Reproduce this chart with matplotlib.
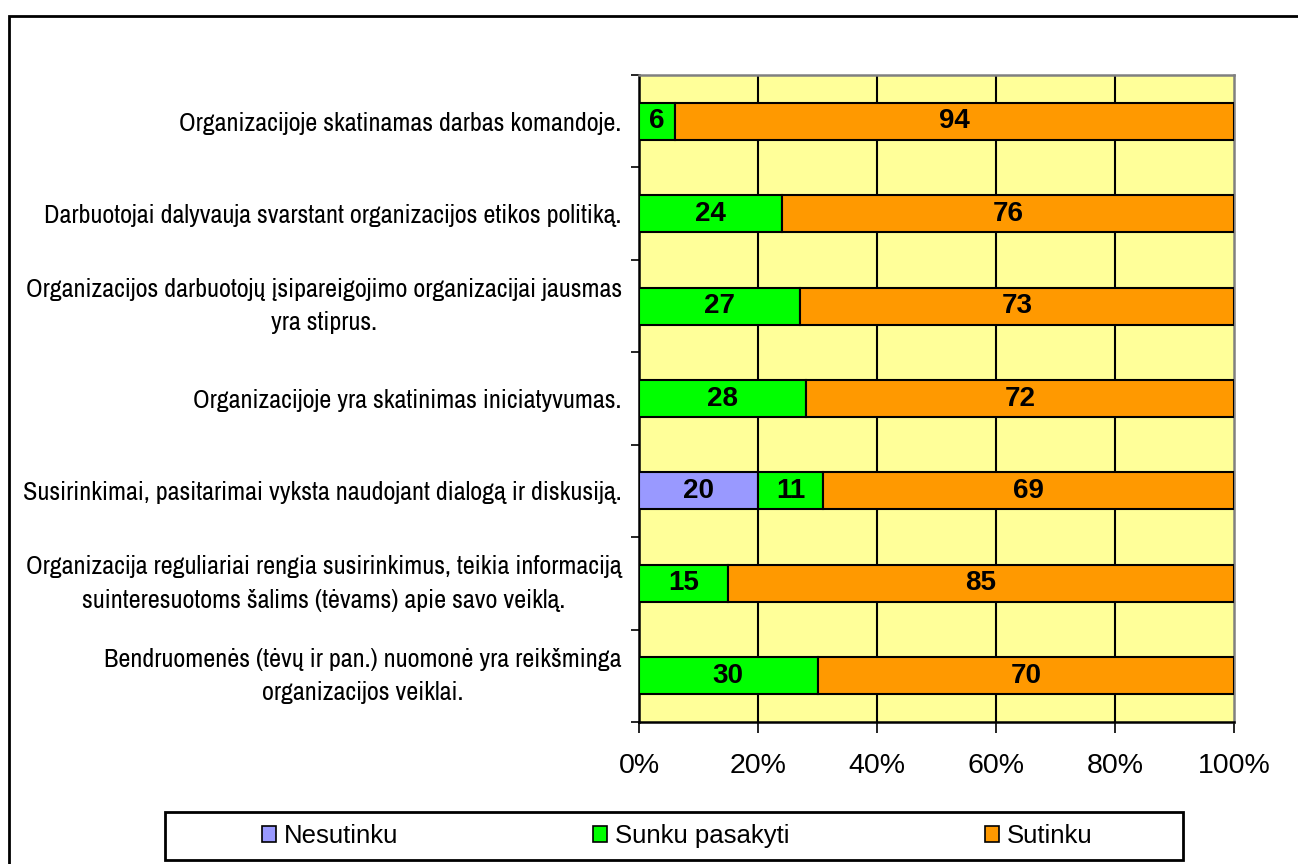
import matplotlib
matplotlib.use("Agg")
import matplotlib.pyplot as plt
from matplotlib import font_manager
from matplotlib.patches import Rectangle, Patch
import numpy as np

categories = [
    "Organizacijoje skatinamas darbas komandoje.",
    "Darbuotojai dalyvauja svarstant organizacijos etikos politiką.",
    "Organizacijos darbuotojų įsipareigojimo organizacijai jausmas\nyra stiprus.",
    "Organizacijoje yra skatinimas iniciatyvumas.",
    "Susirinkimai, pasitarimai vyksta naudojant dialogą ir diskusiją.",
    "Organizacija reguliariai rengia susirinkimus, teikia informaciją\nsuinteresuotoms šalims (tėvams) apie savo veiklą.",
    "Bendruomenės (tėvų ir pan.) nuomonė yra reikšminga\norganizacijos veiklai.",
]
series_names = ["Nesutinku", "Sunku pasakyti", "Sutinku"]
nesutinku = [0, 0, 0, 0, 20, 0, 0]
sunku_pasakyti = [6, 24, 27, 28, 11, 15, 30]
sutinku = [94, 76, 73, 72, 69, 85, 70]
x_ticks = [0, 20, 40, 60, 80, 100]
x_tick_labels = ["0%", "20%", "40%", "60%", "80%", "100%"]

colors = ["#9999FF", "#00FF00", "#FF9900"]

available = {f.name for f in font_manager.fontManager.ttflist}
regular = "Liberation Sans"
if "Archivo Narrow" in available:
    label_font, label_size = "Archivo Narrow", 18.8
else:
    label_font, label_size = regular, 16

fig = plt.figure(figsize=(12.98, 8.64), dpi=100)
W, H = 1298, 864
ax = fig.add_axes([639 / W, 1 - 722 / H, (1234 - 639) / W, (722 - 75) / H])
ax.set_facecolor("#FFFF99")

n = len(categories)
ypos = np.arange(n)
left = np.zeros(n)
for name, vals, col in zip(series_names, [nesutinku, sunku_pasakyti, sutinku], colors):
    vals = np.array(vals, dtype=float)
    ax.barh(ypos, vals, left=left, height=0.4, color=col, edgecolor="black",
            linewidth=1.5, label=name, zorder=3)
    for y, l, v in zip(ypos, left, vals):
        if v > 0:
            ax.text(l + v / 2, y, f"{v:g}", ha="center", va="center",
                    fontsize=20, fontweight="bold", family=regular, zorder=4)
    left += vals

ax.set_xlim(0, 100)
ax.set_ylim(n - 0.5, -0.5)
ax.set_xticks(x_ticks)
ax.set_xticklabels(x_tick_labels, family=regular, fontsize=20.5)
ax.tick_params(axis="x", direction="out", length=8, width=1.2, pad=14)
for x in x_ticks[1:-1]:
    ax.axvline(x, color="black", linewidth=1.5, zorder=1)

# category labels (centred lines, right edge next to the axis)
ax.set_yticks(ypos)
ax.set_yticklabels(categories, family=label_font, fontsize=label_size,
                   linespacing=1.55)
ax.tick_params(axis="y", which="major", length=0, pad=12.5)
for lbl in ax.get_yticklabels():
    lbl.set_multialignment("center")
    if "\n" in lbl.get_text():
        lbl.set_verticalalignment("center")
ax.set_yticks(np.arange(n + 1) - 0.5, minor=True)
ax.tick_params(axis="y", which="minor", direction="out", length=6, width=1.2)

for s in ["left", "bottom"]:
    ax.spines[s].set_color("black")
    ax.spines[s].set_linewidth(1.8)
for s in ["top", "right"]:
    ax.spines[s].set_color("#808080")
    ax.spines[s].set_linewidth(1.8)

# outer chart border
fig.add_artist(Rectangle((9 / W, -0.1), 1.2, 1 - 16 / H + 0.1,
                         transform=fig.transFigure, fill=False,
                         edgecolor="black", linewidth=2))

# legend box
fig.add_artist(Rectangle((165 / W, 1 - 860 / H), (1183 - 165) / W, 48 / H,
                         transform=fig.transFigure, fill=False,
                         edgecolor="black", linewidth=2))
handles = [Patch(facecolor=c, edgecolor="black", linewidth=1.2) for c in colors]
fig.legend(handles, series_names, loc="center",
           bbox_to_anchor=(677 / W, 1 - 836 / H),
           ncol=3, frameon=False, prop={"family": regular, "size": 18.5},
           handlelength=0.55, handleheight=0.55, handletextpad=0.3,
           columnspacing=7.6)

fig.savefig("out.png", dpi=100)
